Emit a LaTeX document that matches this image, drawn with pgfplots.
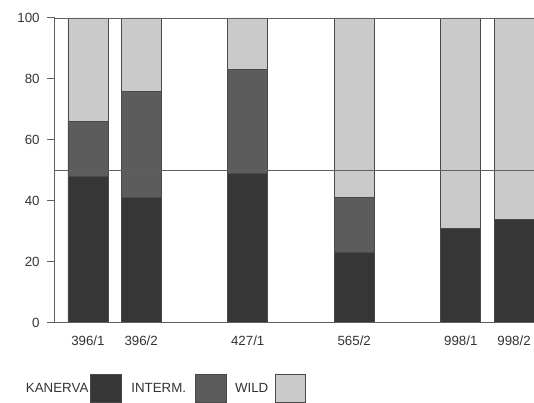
\documentclass[border=0pt]{standalone}
\usepackage{pgfplots}
\pgfplotsset{compat=1.18}
\usepackage{fontspec}
\setmainfont{Liberation Sans}
\definecolor{kan}{HTML}{363636}
\definecolor{inter}{HTML}{5C5C5C}
\definecolor{wild}{HTML}{CACACA}
\definecolor{edge}{HTML}{4A4A4A}
\definecolor{axisgray}{HTML}{606060}
\definecolor{txt}{HTML}{333333}
\begin{document}
\begin{tikzpicture}
\begin{axis}[
  x=40pt, y=2.2875pt,
  xmin=-0.619, xmax=8.375, ymin=0, ymax=100,
  enlargelimits=false,
  clip=false,
  axis on top,
  ybar stacked, bar width=0.75,
  axis x line*=bottom, axis y line*=left,
  axis line style={axisgray, line width=0.75pt, -},
  xtick={0,1,3,5,7,8},
  xticklabels={396/1,396/2,427/1,565/2,998/1,998/2},
  x tick style={draw=none},
  ytick={0,20,40,60,80,100},
  y tick style={axisgray, line width=0.75pt},
  tick align=outside, major tick length=6pt,
  extra y ticks={50,100},
  extra y tick labels={},
  extra y tick style={grid=major, major grid style={axisgray, line width=0.6pt}, y tick style={draw=none}},
  ticklabel style={font=\fontsize{10}{12}\selectfont, text=txt},
  xticklabel style={yshift=-0.5pt},
  yticklabel style={xshift=-2pt},
  /pgf/number format/assume math mode=true,
  legend columns=3,
  legend plot pos=right,
  legend style={draw=none, fill=none, inner sep=0pt, outer sep=0pt,
    at={(-0.0605,-0.2164)}, anchor=west,
    font=\fontsize{10}{12}\selectfont, text=txt,
    nodes={inner xsep=0pt, inner ysep=0pt, anchor=west}},
]
\addplot[fill=kan, draw=edge, line width=0.5pt,
  legend image code/.code={\path[draw=none,fill=none] (0,0) -- (32.25pt,0); \fill[kan, draw=edge, line width=0.5pt] (1.5pt,-10.5pt) rectangle (24.75pt,10.5pt);}]
  coordinates {(0,48) (1,41) (3,49) (5,23) (7,31) (8,34)};
\addlegendentry{KANERVA}
\addplot[fill=inter, draw=edge, line width=0.5pt,
  legend image code/.code={\path[draw=none,fill=none] (0,0) -- (36.75pt,0); \fill[inter, draw=edge, line width=0.5pt] (6.75pt,-10.5pt) rectangle (30pt,10.5pt);}]
  coordinates {(0,18) (1,35) (3,34) (5,18) (7,0) (8,0)};
\addlegendentry{INTERM.}
\addplot[fill=wild, draw=edge, line width=0.5pt,
  legend image code/.code={\path[draw=none,fill=none] (0,0) -- (28pt,0); \fill[wild, draw=edge, line width=0.5pt] (5.25pt,-10.5pt) rectangle (27.75pt,10.5pt);}]
  coordinates {(0,34) (1,24) (3,17) (5,59) (7,69) (8,66)};
\addlegendentry{WILD}
\coordinate (bl) at (axis cs:-1.651,-26.23);
\coordinate (tr) at (axis cs:8.375,105.9);
\end{axis}
\pgfresetboundingbox
\useasboundingbox (bl) rectangle (tr);
\end{tikzpicture}
\end{document}
